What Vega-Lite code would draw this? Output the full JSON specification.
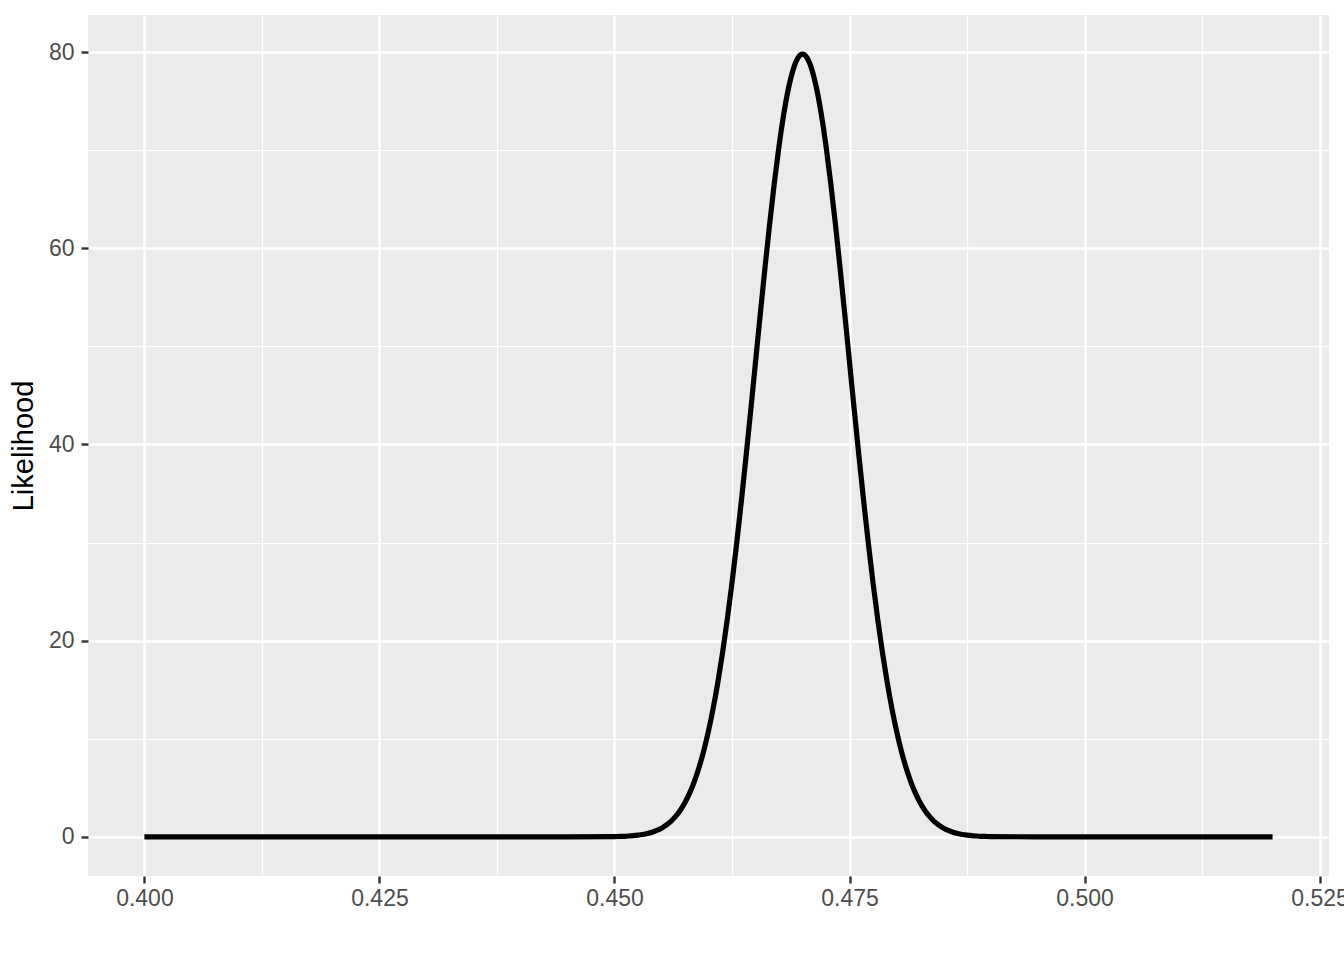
{
  "$schema": "https://vega.github.io/schema/vega-lite/v6.json",
  "width": 1241,
  "height": 861,
  "autosize": {"type": "none"},
  "padding": {"left": 88, "top": 15, "right": 15, "bottom": 84},
  "background": "white",
  "config": {
    "view": {"fill": "#EBEBEB", "stroke": null},
    "font": "Liberation Sans"
  },
  "data": {
    "values": [
      {"p": 0.4, "L": 0},
      {"p": 0.44, "L": 0},
      {"p": 0.445, "L": 0.0003},
      {"p": 0.45, "L": 0.027},
      {"p": 0.4505, "L": 0.040},
      {"p": 0.451, "L": 0.058},
      {"p": 0.4515, "L": 0.085},
      {"p": 0.452, "L": 0.122},
      {"p": 0.4525, "L": 0.175},
      {"p": 0.453, "L": 0.246},
      {"p": 0.4535, "L": 0.345},
      {"p": 0.454, "L": 0.477},
      {"p": 0.4545, "L": 0.653},
      {"p": 0.455, "L": 0.886},
      {"p": 0.4555, "L": 1.191},
      {"p": 0.456, "L": 1.583},
      {"p": 0.4565, "L": 2.084},
      {"p": 0.457, "L": 2.717},
      {"p": 0.4575, "L": 3.506},
      {"p": 0.458, "L": 4.479},
      {"p": 0.4585, "L": 5.665},
      {"p": 0.459, "L": 7.095},
      {"p": 0.4595, "L": 8.797},
      {"p": 0.46, "L": 10.798},
      {"p": 0.4605, "L": 13.123},
      {"p": 0.461, "L": 15.790},
      {"p": 0.4615, "L": 18.810},
      {"p": 0.462, "L": 22.184},
      {"p": 0.4625, "L": 25.904},
      {"p": 0.463, "L": 29.946},
      {"p": 0.4635, "L": 34.274},
      {"p": 0.464, "L": 38.837},
      {"p": 0.4645, "L": 43.571},
      {"p": 0.465, "L": 48.394},
      {"p": 0.4655, "L": 53.217},
      {"p": 0.466, "L": 57.938},
      {"p": 0.4665, "L": 62.451},
      {"p": 0.467, "L": 66.645},
      {"p": 0.4675, "L": 70.413},
      {"p": 0.468, "L": 73.654},
      {"p": 0.4685, "L": 76.278},
      {"p": 0.469, "L": 78.209},
      {"p": 0.4695, "L": 79.391},
      {"p": 0.47, "L": 79.789},
      {"p": 0.4705, "L": 79.391},
      {"p": 0.471, "L": 78.209},
      {"p": 0.4715, "L": 76.278},
      {"p": 0.472, "L": 73.654},
      {"p": 0.4725, "L": 70.413},
      {"p": 0.473, "L": 66.645},
      {"p": 0.4735, "L": 62.451},
      {"p": 0.474, "L": 57.938},
      {"p": 0.4745, "L": 53.217},
      {"p": 0.475, "L": 48.394},
      {"p": 0.4755, "L": 43.571},
      {"p": 0.476, "L": 38.837},
      {"p": 0.4765, "L": 34.274},
      {"p": 0.477, "L": 29.946},
      {"p": 0.4775, "L": 25.904},
      {"p": 0.478, "L": 22.184},
      {"p": 0.4785, "L": 18.810},
      {"p": 0.479, "L": 15.790},
      {"p": 0.4795, "L": 13.123},
      {"p": 0.48, "L": 10.798},
      {"p": 0.4805, "L": 8.797},
      {"p": 0.481, "L": 7.095},
      {"p": 0.4815, "L": 5.665},
      {"p": 0.482, "L": 4.479},
      {"p": 0.4825, "L": 3.506},
      {"p": 0.483, "L": 2.717},
      {"p": 0.4835, "L": 2.084},
      {"p": 0.484, "L": 1.583},
      {"p": 0.4845, "L": 1.191},
      {"p": 0.485, "L": 0.886},
      {"p": 0.4855, "L": 0.653},
      {"p": 0.486, "L": 0.477},
      {"p": 0.4865, "L": 0.345},
      {"p": 0.487, "L": 0.246},
      {"p": 0.4875, "L": 0.175},
      {"p": 0.488, "L": 0.122},
      {"p": 0.4885, "L": 0.085},
      {"p": 0.489, "L": 0.058},
      {"p": 0.4895, "L": 0.040},
      {"p": 0.49, "L": 0.027},
      {"p": 0.495, "L": 0.0003},
      {"p": 0.5, "L": 0},
      {"p": 0.52, "L": 0}
    ]
  },
  "layer": [
    {
      "mark": {"type": "line", "strokeOpacity": 0, "strokeWidth": 0},
      "encoding": {
        "x": {
          "field": "p", "type": "quantitative",
          "scale": {"domain": [0.394, 0.526], "nice": false, "zero": false},
          "axis": {
            "orient": "bottom", "values": [0.3875, 0.4125, 0.4375, 0.4625, 0.4875, 0.5125],
            "grid": true, "gridColor": "white", "gridWidth": 1.2, "gridOpacity": 1,
            "labels": false, "ticks": false, "domain": false, "title": null
          }
        },
        "y": {
          "field": "L", "type": "quantitative",
          "scale": {"domain": [-3.99, 83.78], "nice": false, "zero": false},
          "axis": {
            "orient": "left", "values": [10, 30, 50, 70],
            "grid": true, "gridColor": "white", "gridWidth": 1.2, "gridOpacity": 1,
            "labels": false, "ticks": false, "domain": false, "title": null
          }
        }
      }
    },
    {
      "mark": {"type": "line", "color": "black", "strokeWidth": 5.2, "interpolate": "monotone", "strokeJoin": "round", "strokeCap": "butt"},
      "encoding": {
        "x": {
          "field": "p", "type": "quantitative",
          "scale": {"domain": [0.394, 0.526], "nice": false, "zero": false},
          "axis": {
            "orient": "bottom", "values": [0.4, 0.425, 0.45, 0.475, 0.5, 0.525],
            "format": ".3f", "title": null,
            "grid": true, "gridColor": "white", "gridWidth": 2.4, "gridOpacity": 1,
            "domain": false, "ticks": true, "tickColor": "#333333", "tickSize": 7, "tickWidth": 2.4,
            "labelFontSize": 23, "labelColor": "#4D4D4D", "labelPadding": 4, "labelFlush": false,
            "labelOverlap": false
          }
        },
        "y": {
          "field": "L", "type": "quantitative",
          "scale": {"domain": [-3.99, 83.78], "nice": false, "zero": false},
          "axis": {
            "orient": "left", "values": [0, 20, 40, 60, 80],
            "title": "Likelihood", "titleFontSize": 29, "titleFontWeight": "normal", "titleColor": "black",
            "titlePadding": 10,
            "grid": true, "gridColor": "white", "gridWidth": 2.4, "gridOpacity": 1,
            "domain": false, "ticks": true, "tickColor": "#333333", "tickSize": 7, "tickWidth": 2.4,
            "labelFontSize": 23, "labelColor": "#4D4D4D", "labelPadding": 7, "labelFlush": false,
            "labelOverlap": false
          }
        }
      }
    }
  ],
  "resolve": {"axis": {"x": "independent", "y": "independent"}}
}
